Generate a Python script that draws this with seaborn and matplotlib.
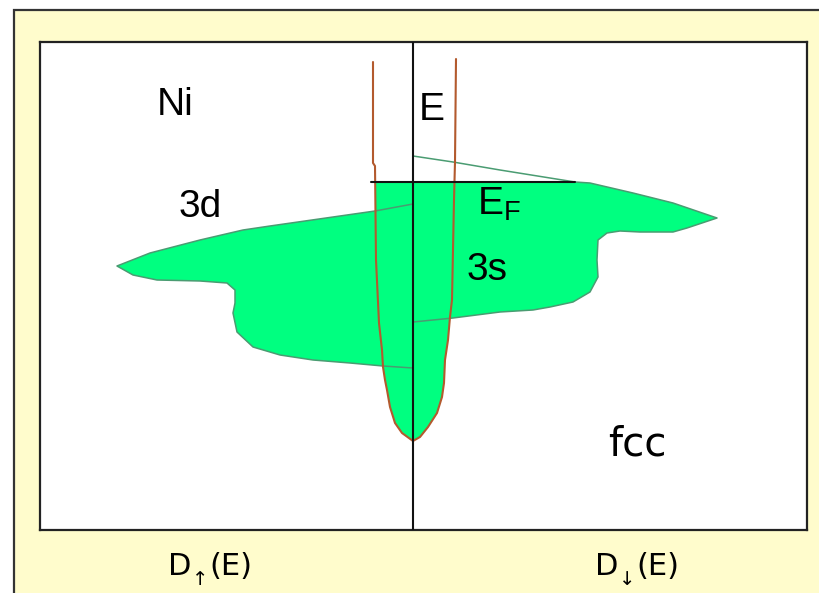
import matplotlib
matplotlib.use("Agg")
import matplotlib.pyplot as plt
from matplotlib.patches import Rectangle
import seaborn as sns

# Schematic density of states of fcc Ni.
# DOS: negative = spin up (left), positive = spin down (right).
# Energy measured from the Fermi level (arbitrary units).

# 3d band, spin up (fully below E_F)
d_up_dos = [0, -38, -143, -170, -213, -263, -296, -280, -256, -213, -186,
            -178, -178, -180, -176, -160, -133, -100, -63, -30, 0]
d_up_energy = [-22, -29, -44, -48, -58, -71, -84, -93, -98, -99, -101,
               -108, -121, -131, -150, -165, -173, -178, -181, -184, -186]

# 3d band, spin down (partly above E_F)
d_dn_dos = [0, 40, 87, 137, 162, 177, 220, 260, 304, 274, 260, 227, 207,
            194, 185, 184, 185, 177, 160, 137, 120, 87, 40, 0]
d_dn_energy = [26, 20, 12, 4, 0, -1, -11, -21, -36, -46, -50, -50, -49,
               -51, -58, -78, -95, -110, -120, -125, -128, -130, -136, -140]

# free-electron-like band (labelled 3s), drawn as a U-shaped curve
s_dos = [-40, -40, -38, -37, -34, -31, -30, -28, -26, -23, -18, -11, 0,
         7, 15, 24, 29, 31, 32, 35, 37, 39, 40, 41, 42, 43]
s_energy = [120, 19, 16, -78, -141, -168, -185, -198, -208, -225, -241, -251, -259,
            -255, -245, -231, -215, -201, -178, -158, -135, -118, -68, -18, 20, 123]

# Fermi level marker
fermi_dos = [-42, 162]
fermi_energy = [0, 0]

FILL = "#00ff80"
EDGE = "#4a9c72"
BROWN = "#b35a2e"
PANEL = "#fffccc"

sns.set_theme(style="white")
plt.rcParams["font.family"] = ["Liberation Sans", "DejaVu Sans"]
plt.rcParams["text.color"] = "black"
plt.rcParams["mathtext.fontset"] = "custom"
plt.rcParams["mathtext.rm"] = "Liberation Sans"
plt.rcParams["mathtext.it"] = "Liberation Sans"
plt.rcParams["mathtext.bf"] = "Liberation Sans:bold"

W, H = 819, 593
fig = plt.figure(figsize=(W / 100, H / 100), dpi=100)
fig.patch.set_facecolor("white")

# pale yellow panel behind the diagram
fig.patches.append(Rectangle((14 / W, -0.2), 1.2, (H - 10) / H + 0.2,
                             transform=fig.transFigure, facecolor=PANEL,
                             edgecolor="#333333", linewidth=1.6, zorder=0))

ax = fig.add_axes([40 / W, (H - 530) / H, 767 / W, 488 / H])
ax.set_facecolor("white")
ax.set_zorder(1)

below_ef = Rectangle((-500, -500), 1000, 500, transform=ax.transData)

# filled (occupied) states
for poly in ax.fill(s_dos, s_energy, color=FILL, lw=0, zorder=1):
    poly.set_clip_path(below_ef)
ax.fill(d_up_dos, d_up_energy, color=FILL, lw=0, zorder=1)
for poly in ax.fill(d_dn_dos, d_dn_energy, color=FILL, lw=0, zorder=1):
    poly.set_clip_path(below_ef)

# band outlines
sns.lineplot(x=d_up_dos, y=d_up_energy, sort=False, estimator=None,
             color=EDGE, lw=1.1, ax=ax, zorder=2)
sns.lineplot(x=d_dn_dos, y=d_dn_energy, sort=False, estimator=None,
             color=EDGE, lw=1.1, ax=ax, zorder=2)
sns.lineplot(x=s_dos, y=s_energy, sort=False, estimator=None,
             color=BROWN, lw=1.5, ax=ax, zorder=3)

# energy axis and Fermi level
ax.axvline(0, color="#111111", lw=1.5, zorder=4)
sns.lineplot(x=fermi_dos, y=fermi_energy, sort=False, estimator=None,
             color="#111111", lw=1.5, ax=ax, zorder=4)

ax.set_xlim(-373, 394)
ax.set_ylim(-348, 140)
ax.set_xticks([])
ax.set_yticks([])
ax.set_xlabel("")
ax.set_ylabel("")
for sp in ax.spines.values():
    sp.set_color("#222222")
    sp.set_linewidth(1.6)

big = 28
ax.text(-238, 67, "Ni", fontsize=big, ha="center", va="baseline", color="black")
ax.text(19, 62, "E", fontsize=big, ha="center", va="baseline", color="black")
ax.text(-213, -35, "3d", fontsize=big, ha="center", va="baseline", color="black")
ax.text(64, -33, r"E$_{\mathrm{F}}$", fontsize=big, ha="left", va="baseline", color="black")
ax.text(74, -98, "3s", fontsize=big, ha="center", va="baseline", color="black")
ax.text(224, -273, "fcc", fontsize=29, ha="center", va="baseline", color="black",
        family=["DejaVu Sans"])


def spin_label(x0, arrow):
    """D with a spin-arrow subscript followed by (E), placed in pixel units."""
    base = (H - 575) / H
    fig.text(x0 / W, base, "D", fontsize=22, ha="left", va="baseline",
             color="black", family=["DejaVu Sans"])
    fig.text((x0 + 32) / W, (H - 585) / H, arrow, fontsize=14, ha="center",
             va="baseline", color="black", family=["DejaVu Sans"])
    fig.text((x0 + 41) / W, base, "(E)", fontsize=22, ha="left", va="baseline",
             color="black", family=["DejaVu Sans"])


spin_label(168, "\u2191")
spin_label(595, "\u2193")

fig.savefig("out.png", dpi=100, facecolor=fig.get_facecolor())
